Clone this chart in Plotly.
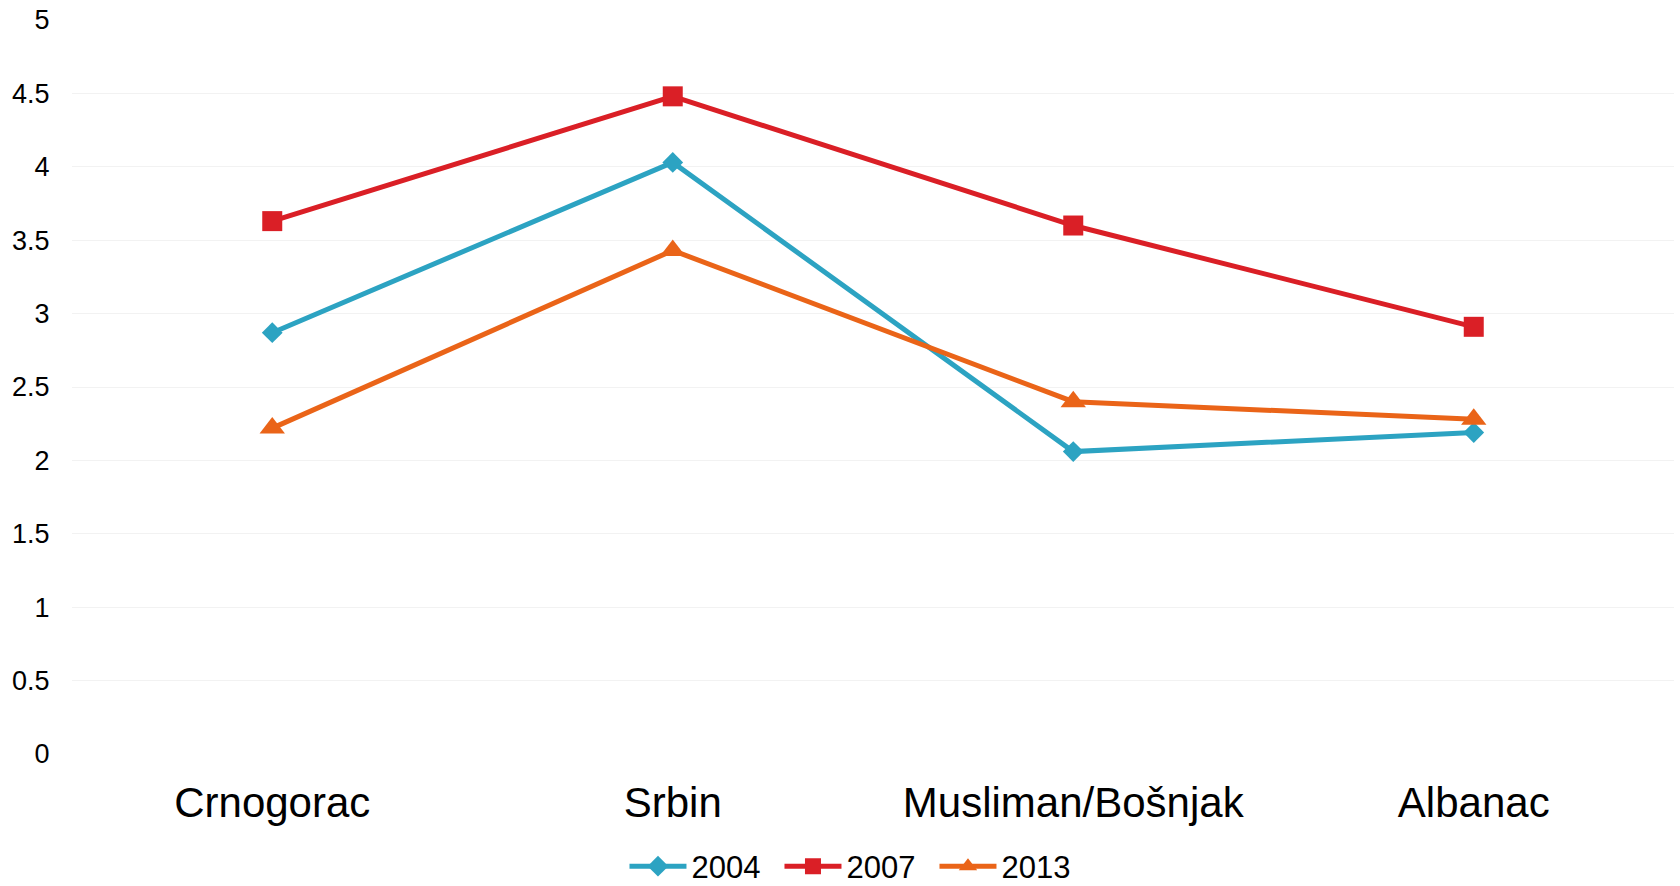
import plotly.graph_objects as go

categories = ["Crnogorac", "Srbin", "Musliman/Bošnjak", "Albanac"]
series_names = ["2004", "2007", "2013"]
values_2004 = [2.87, 4.03, 2.06, 2.19]
values_2007 = [3.63, 4.48, 3.60, 2.91]
values_2013 = [2.22, 3.43, 2.40, 2.28]
y_ticks = [0, 0.5, 1, 1.5, 2, 2.5, 3, 3.5, 4, 4.5, 5]
y_tick_labels = ["0", "0.5", "1", "1.5", "2", "2.5", "3", "3.5", "4", "4.5", "5"]

colors = ["#2CA3C2", "#DA1F26", "#EA6418"]
symbols = ["diamond", "square", "triangle-up"]
msizes = [16, 20, 22]

fig = go.Figure()
for name, vals, c, s, ms in zip(series_names, [values_2004, values_2007, values_2013], colors, symbols, msizes):
    fig.add_trace(go.Scatter(
        x=categories, y=vals, name=name, mode="lines+markers",
        line=dict(color=c, width=5),
        marker=dict(symbol=s, size=ms, color=c, line=dict(width=0)),
    ))

fig.update_layout(
    width=1680, height=886,
    paper_bgcolor="white", plot_bgcolor="white",
    margin=dict(l=72, r=6, t=20, b=132),
    font=dict(family="Liberation Sans, Arial, sans-serif", color="#000000"),
    showlegend=True,
    legend=dict(orientation="h", x=0.49, xanchor="center",
                yref="container", y=0.022, yanchor="middle",
                font=dict(size=31), itemwidth=57, entrywidth=83, entrywidthmode="pixels",
                traceorder="normal"),
    xaxis=dict(type="category", showgrid=False, showline=False, zeroline=False,
               tickfont=dict(size=42), ticks="outside", ticklen=12, tickcolor="rgba(0,0,0,0)",
               range=[-0.5, 3.5]),
    yaxis=dict(range=[0, 5], tickvals=y_ticks, ticktext=y_tick_labels,
               showgrid=True, gridcolor="#F2F2F2", gridwidth=1, zeroline=False, showline=False,
               tickfont=dict(size=27), ticks="outside", ticklen=16, tickcolor="rgba(0,0,0,0)"),
)

fig.write_html("out.html", config={"displayModeBar": False},
               post_script="document.body.style.margin='0';document.body.style.overflow='hidden';")
